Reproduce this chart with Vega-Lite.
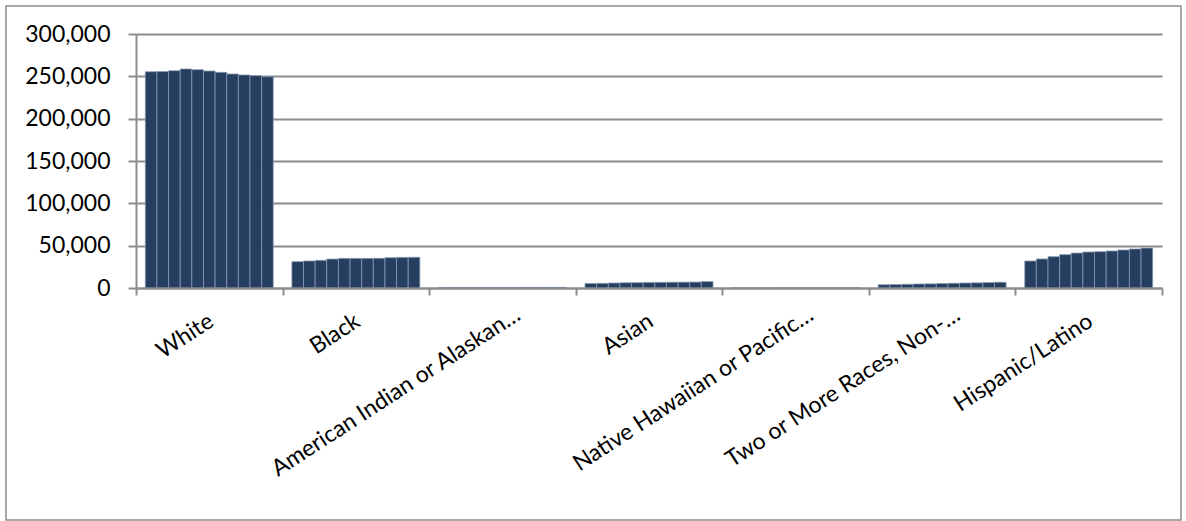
{
  "$schema": "https://vega.github.io/schema/vega-lite/v6.json",
  "width": 1175,
  "height": 514,
  "autosize": {"type": "none"},
  "padding": {"left": 6, "top": 6, "right": 5, "bottom": 1},
  "background": "white",
  "config": {
    "view": {"stroke": "#8c8c8c", "strokeWidth": 1.5},
    "font": "Lato"
  },
  "data": {
    "values": [
      {"group": "White", "year": "2003", "students": 255500},
      {"group": "White", "year": "2004", "students": 255700},
      {"group": "White", "year": "2005", "students": 256700},
      {"group": "White", "year": "2006", "students": 258700},
      {"group": "White", "year": "2007", "students": 257900},
      {"group": "White", "year": "2008", "students": 256300},
      {"group": "White", "year": "2009", "students": 254700},
      {"group": "White", "year": "2010", "students": 252800},
      {"group": "White", "year": "2011", "students": 251600},
      {"group": "White", "year": "2012", "students": 250800},
      {"group": "White", "year": "2013", "students": 249600},
      {"group": "Black", "year": "2003", "students": 31100},
      {"group": "Black", "year": "2004", "students": 31900},
      {"group": "Black", "year": "2005", "students": 32700},
      {"group": "Black", "year": "2006", "students": 34200},
      {"group": "Black", "year": "2007", "students": 35000},
      {"group": "Black", "year": "2008", "students": 35000},
      {"group": "Black", "year": "2009", "students": 35000},
      {"group": "Black", "year": "2010", "students": 35100},
      {"group": "Black", "year": "2011", "students": 35800},
      {"group": "Black", "year": "2012", "students": 36200},
      {"group": "Black", "year": "2013", "students": 36300},
      {"group": "American Indian or Alaskan\u2026", "year": "2003", "students": 700},
      {"group": "American Indian or Alaskan\u2026", "year": "2004", "students": 720},
      {"group": "American Indian or Alaskan\u2026", "year": "2005", "students": 740},
      {"group": "American Indian or Alaskan\u2026", "year": "2006", "students": 760},
      {"group": "American Indian or Alaskan\u2026", "year": "2007", "students": 770},
      {"group": "American Indian or Alaskan\u2026", "year": "2008", "students": 780},
      {"group": "American Indian or Alaskan\u2026", "year": "2009", "students": 790},
      {"group": "American Indian or Alaskan\u2026", "year": "2010", "students": 800},
      {"group": "American Indian or Alaskan\u2026", "year": "2011", "students": 810},
      {"group": "American Indian or Alaskan\u2026", "year": "2012", "students": 820},
      {"group": "American Indian or Alaskan\u2026", "year": "2013", "students": 830},
      {"group": "Asian", "year": "2003", "students": 5400},
      {"group": "Asian", "year": "2004", "students": 5500},
      {"group": "Asian", "year": "2005", "students": 5900},
      {"group": "Asian", "year": "2006", "students": 6200},
      {"group": "Asian", "year": "2007", "students": 6300},
      {"group": "Asian", "year": "2008", "students": 6600},
      {"group": "Asian", "year": "2009", "students": 6700},
      {"group": "Asian", "year": "2010", "students": 6800},
      {"group": "Asian", "year": "2011", "students": 6900},
      {"group": "Asian", "year": "2012", "students": 7000},
      {"group": "Asian", "year": "2013", "students": 7600},
      {"group": "Native Hawaiian or Pacific\u2026", "year": "2003", "students": 150},
      {"group": "Native Hawaiian or Pacific\u2026", "year": "2004", "students": 160},
      {"group": "Native Hawaiian or Pacific\u2026", "year": "2005", "students": 170},
      {"group": "Native Hawaiian or Pacific\u2026", "year": "2006", "students": 180},
      {"group": "Native Hawaiian or Pacific\u2026", "year": "2007", "students": 190},
      {"group": "Native Hawaiian or Pacific\u2026", "year": "2008", "students": 200},
      {"group": "Native Hawaiian or Pacific\u2026", "year": "2009", "students": 210},
      {"group": "Native Hawaiian or Pacific\u2026", "year": "2010", "students": 220},
      {"group": "Native Hawaiian or Pacific\u2026", "year": "2011", "students": 230},
      {"group": "Native Hawaiian or Pacific\u2026", "year": "2012", "students": 240},
      {"group": "Native Hawaiian or Pacific\u2026", "year": "2013", "students": 250},
      {"group": "Two or More Races, Non-\u2026", "year": "2003", "students": 3900},
      {"group": "Two or More Races, Non-\u2026", "year": "2004", "students": 4100},
      {"group": "Two or More Races, Non-\u2026", "year": "2005", "students": 4400},
      {"group": "Two or More Races, Non-\u2026", "year": "2006", "students": 4700},
      {"group": "Two or More Races, Non-\u2026", "year": "2007", "students": 4900},
      {"group": "Two or More Races, Non-\u2026", "year": "2008", "students": 5300},
      {"group": "Two or More Races, Non-\u2026", "year": "2009", "students": 5600},
      {"group": "Two or More Races, Non-\u2026", "year": "2010", "students": 5900},
      {"group": "Two or More Races, Non-\u2026", "year": "2011", "students": 6100},
      {"group": "Two or More Races, Non-\u2026", "year": "2012", "students": 6400},
      {"group": "Two or More Races, Non-\u2026", "year": "2013", "students": 6800},
      {"group": "Hispanic/Latino", "year": "2003", "students": 31900},
      {"group": "Hispanic/Latino", "year": "2004", "students": 34300},
      {"group": "Hispanic/Latino", "year": "2005", "students": 37000},
      {"group": "Hispanic/Latino", "year": "2006", "students": 39400},
      {"group": "Hispanic/Latino", "year": "2007", "students": 41300},
      {"group": "Hispanic/Latino", "year": "2008", "students": 42500},
      {"group": "Hispanic/Latino", "year": "2009", "students": 42900},
      {"group": "Hispanic/Latino", "year": "2010", "students": 43700},
      {"group": "Hispanic/Latino", "year": "2011", "students": 44900},
      {"group": "Hispanic/Latino", "year": "2012", "students": 46100},
      {"group": "Hispanic/Latino", "year": "2013", "students": 47200}
    ]
  },
  "encoding": {
    "x": {
      "field": "group",
      "type": "nominal",
      "sort": null,
      "scale": {"range": [130, 1156], "paddingInner": 0, "paddingOuter": 0},
      "axis": {
        "title": null,
        "orient": "bottom",
        "offset": -232,
        "zindex": 1,
        "labels": false,
        "tickBand": "extent",
        "tickSize": 7,
        "tickWidth": 2,
        "tickColor": "#8c8c8c",
        "domainColor": "#8c8c8c",
        "domainWidth": 2
      }
    }
  },
  "layer": [
    {
      "mark": {"type": "bar", "fill": "#263F60", "stroke": "#8a9bb4", "strokeWidth": 0.75},
      "encoding": {
        "xOffset": {
          "field": "year",
          "type": "ordinal",
          "scale": {"paddingInner": 0, "paddingOuter": 0.8}
        },
        "y": {
          "field": "students",
          "type": "quantitative",
          "scale": {"domain": [0, 300000], "range": [282, 28], "nice": false},
          "axis": {
            "title": null,
            "orient": "left",
            "offset": -130,
            "values": [0, 50000, 100000, 150000, 200000, 250000, 300000],
            "format": ",d",
            "labelFont": "Lato",
            "labelFontSize": 23,
            "labelColor": "#000000",
            "labelPadding": 18,
            "tickSize": 8,
            "tickWidth": 2,
            "tickColor": "#8c8c8c",
            "grid": true,
            "gridColor": "#8c8c8c",
            "gridWidth": 2,
            "domainColor": "#8c8c8c",
            "domainWidth": 2
          }
        }
      }
    },
    {
      "transform": [
        {"filter": "datum.year == '2003' && indexof(datum.group, '\u2026') < 0"}
      ],
      "mark": {
        "type": "text",
        "font": "Lato",
        "fontSize": 23,
        "color": "#000000",
        "angle": -33,
        "align": "right",
        "baseline": "top",
        "dx": -15.35,
        "dy": 16.3
      },
      "encoding": {
        "y": {"datum": 0, "type": "quantitative"},
        "text": {"field": "group", "type": "nominal"}
      }
    },
    {
      "transform": [
        {"filter": "datum.year == '2003' && indexof(datum.group, '\u2026') >= 0"}
      ],
      "mark": {
        "type": "text",
        "font": "Lato",
        "fontSize": 23,
        "color": "#000000",
        "angle": -33,
        "align": "right",
        "baseline": "top",
        "dx": -0.35,
        "dy": 18.3
      },
      "encoding": {
        "y": {"datum": 0, "type": "quantitative"},
        "text": {"field": "group", "type": "nominal"}
      }
    }
  ]
}
